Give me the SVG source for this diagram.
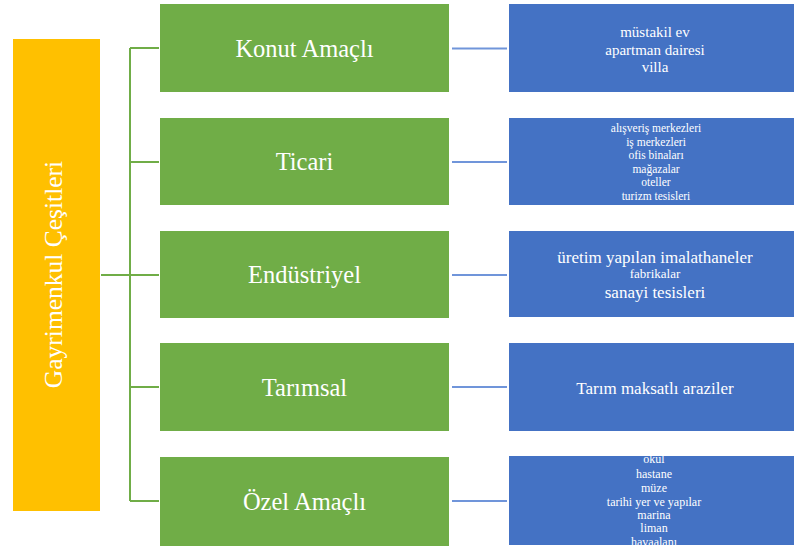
<svg xmlns="http://www.w3.org/2000/svg" width="794" height="551" viewBox="0 0 794 551" font-family="Liberation Serif">
<style>
.bg{fill:#ffffff}
.root{fill:#FFC000}
.cat{fill:#70AD47}
.det{fill:#4472C4}
.t{fill:#ffffff;text-anchor:middle}
.ct{font-size:24.5px}
.gl{stroke:#70AD47;stroke-width:2;fill:none}
.bl{stroke:#7095DA;stroke-width:2;fill:none}
</style>
<rect class="bg" x="0" y="0" width="794" height="551"/>
<g id="connectors">
<path class="gl" d="M101 275H130M130 48V501M130 48H159M130 162H159M130 275H159M130 387H159M130 501H159"/>
<path class="bl" d="M452 48.5H507M452 162H507M452 275H507M452 387H507M452 501H507"/>
</g>
<g id="root">
<rect class="root" x="13" y="39" width="87" height="472"/>
<text class="t" font-family="Liberation Serif" font-size="25.5" transform="translate(62 274.5) rotate(-90)">Gayrimenkul Çeşitleri</text>
</g>
<g id="konut">
<rect class="cat" x="160" y="4" width="289" height="88"/>
<text class="t ct" font-family="Liberation Serif" x="304.5" y="56.5">Konut Amaçlı</text>
</g>
<g id="ticari">
<rect class="cat" x="160" y="118" width="289" height="87"/>
<text class="t ct" font-family="Liberation Serif" x="304.5" y="170">Ticari</text>
</g>
<g id="endustriyel">
<rect class="cat" x="160" y="231" width="289" height="87"/>
<text class="t ct" font-family="Liberation Serif" x="304.5" y="283">Endüstriyel</text>
</g>
<g id="tarimsal">
<rect class="cat" x="160" y="343" width="289" height="88"/>
<text class="t ct" font-family="Liberation Serif" x="304.5" y="395.5">Tarımsal</text>
</g>
<g id="ozel">
<rect class="cat" x="160" y="457" width="289" height="89"/>
<text class="t ct" font-family="Liberation Serif" x="304.5" y="509.5">Özel Amaçlı</text>
</g>
<g id="konut-detay">
<rect class="det" x="509" y="4" width="291" height="88"/>
<text class="t" font-family="Liberation Serif" font-size="15"><tspan x="655" y="37">müstakil ev</tspan><tspan x="655" y="54.5">apartman dairesi</tspan><tspan x="655" y="72">villa</tspan></text>
</g>
<g id="ticari-detay">
<rect class="det" x="509" y="118" width="291" height="87"/>
<text class="t" font-family="Liberation Serif" font-size="11.5"><tspan x="656" y="132">alışveriş merkezleri</tspan><tspan x="656" y="145.5">iş merkezleri</tspan><tspan x="656" y="159">ofis binaları</tspan><tspan x="656" y="172.5">mağazalar</tspan><tspan x="656" y="186">oteller</tspan><tspan x="656" y="199.5">turizm tesisleri</tspan></text>
</g>
<g id="endustriyel-detay">
<rect class="det" x="509" y="231" width="291" height="86"/>
<text class="t" font-family="Liberation Serif"><tspan x="655" y="263" font-size="17">üretim yapılan imalathaneler</tspan><tspan x="655" y="278" font-size="13">fabrikalar</tspan><tspan x="655" y="298" font-size="17">sanayi tesisleri</tspan></text>
</g>
<g id="tarimsal-detay">
<rect class="det" x="509" y="343" width="291" height="88"/>
<text class="t" font-family="Liberation Serif" font-size="17" x="655" y="394">Tarım maksatlı araziler</text>
</g>
<g id="ozel-detay">
<rect class="det" x="509" y="456" width="291" height="89"/>
<text class="t" font-family="Liberation Serif" font-size="12"><tspan x="654" y="463">okul</tspan><tspan x="654" y="477.5">hastane</tspan><tspan x="654" y="491.5">müze</tspan><tspan x="654" y="505.5">tarihi yer ve yapılar</tspan><tspan x="654" y="519">marina</tspan><tspan x="654" y="532">liman</tspan><tspan x="654" y="546">havaalanı</tspan></text>
</g>
</svg>
